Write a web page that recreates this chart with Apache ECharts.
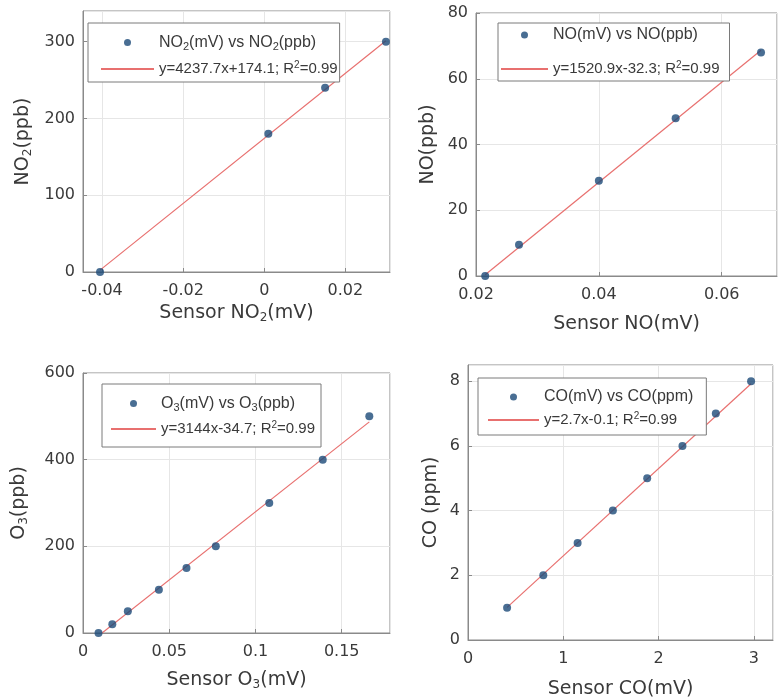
<!DOCTYPE html>
<html>
<head>
<meta charset="utf-8">
<script src="https://cdn.jsdelivr.net/npm/echarts@6/dist/echarts.min.js"></script>
<style>
html,body{margin:0;padding:0;background:#fff;}
#main{width:778px;height:700px;}
</style>
</head>
<body>
<div id="main"></div>
<script>
// values
var no2X = [-0.0405, 0.001, 0.015, 0.030];
var no2Y = [0, 180, 240, 300];
var noX = [0.0215, 0.027, 0.040, 0.0525, 0.0664];
var noY = [0, 9.5, 29, 48, 68];
var o3X = [0.009, 0.017, 0.026, 0.044, 0.060, 0.077, 0.108, 0.139, 0.166];
var o3Y = [0, 20, 50, 100, 150, 200, 300, 400, 500];
var coX = [0.41, 0.79, 1.15, 1.52, 1.88, 2.25, 2.60, 2.97];
var coY = [1, 2, 3, 4, 5, 6, 7, 8];
// fit lines as printed in the legends
var fitSlope = [4237.7, 1520.9, 3144, 2.7];
var fitIntercept = [174.1, -32.3, -34.7, -0.1];

var FONT = 'DejaVu Sans';
var LFONT = 'Liberation Sans';
var TXT = '#3a3a3a';
var DOT = '#1b4a78';
var FIT = '#e8706f';
var BOX = '#8a8a8a';

var richName = {
	s: {fontFamily: FONT, fontSize: 12, lineHeight: 12, padding: [9, 0, 0, 0], color: TXT}
};
var richLeg = {
	s: {fontFamily: LFONT, fontSize: 11, lineHeight: 10, padding: [8, 0, 0, 0], color: TXT},
	p: {fontFamily: LFONT, fontSize: 10, lineHeight: 10, padding: [0, 0, 8, 0], color: TXT},
	f: {fontFamily: LFONT, fontSize: 15, lineHeight: 18, color: TXT}
};

var labels = {};

var panels = [
	{x: no2X, y: no2Y, name: 'NO2(mV) vs NO2(ppb)', label: 'NO{s|2}(mV) vs NO{s|2}(ppb)',
	 fitName: 'y=4237.7x+174.1; R2=0.99', fitLabel: '{f|y=4237.7x+174.1; R}{p|2}{f|=0.99}',
	 xName: 'Sensor NO{s|2}(mV)', yName: 'NO{s|2}(ppb)',
	 grid: [83, 11, 307, 261], xMin: -0.0447, xMax: 0.031, xInt: null, yMin: 0, yMax: 340, yInt: 100,
	 xGap: 32, yGap: 50, minX: false, maxX: false, maxY: false,
	 leg: {left: 88, top: 23, padding: [10, 2, 4, 12], itemGap: 8, itemWidth: 53}},
	{x: noX, y: noY, name: 'NO(mV) vs NO(ppb)', label: 'NO(mV) vs NO(ppb)',
	 fitName: 'y=1520.9x-32.3; R2=0.99', fitLabel: '{f|y=1520.9x-32.3; R}{p|2}{f|=0.99}',
	 xName: 'Sensor NO(mV)', yName: 'NO(ppb)',
	 grid: [476, 13, 301, 263], xMin: 0.02, xMax: 0.069, xInt: 0.02, yMin: 0, yMax: 80, yInt: 20,
	 xGap: 39, yGap: 38, minX: true, maxX: false, maxY: true,
	 leg: {left: 498, top: 23, padding: [3, 10, 3, 2], itemGap: 16, itemWidth: 47}},
	{x: o3X, y: o3Y, name: 'O3(mV) vs O3(ppb)', label: 'O{s|3}(mV) vs O{s|3}(ppb)',
	 fitName: 'y=3144x-34.7; R2=0.99', fitLabel: '{f|y=3144x-34.7; R}{p|2}{f|=0.99}',
	 xName: 'Sensor O{s|3}(mV)', yName: 'O{s|3}(ppb)',
	 grid: [83, 373, 307, 260], xMin: 0, xMax: 0.178, xInt: 0.05, yMin: 0, yMax: 600, yInt: 200,
	 xGap: 38, yGap: 54, minX: true, maxX: false, maxY: true,
	 leg: {left: 102, top: 384, padding: [10, 6, 9, 8], itemGap: 7, itemWidth: 45}},
	{x: coX, y: coY, name: 'CO(mV) vs CO(ppm)', label: 'CO(mV) vs CO(ppm)',
	 fitName: 'y=2.7x-0.1; R2=0.99', fitLabel: '{f|y=2.7x-0.1; R}{p|2}{f|=0.99}',
	 xName: 'Sensor CO(mV)', yName: 'CO (ppm)',
	 grid: [468, 365, 305, 275], xMin: 0, xMax: 3.2, xInt: 1, yMin: 0, yMax: 8.5, yInt: 2,
	 xGap: 40, yGap: 27, minX: true, maxX: false, maxY: false,
	 leg: {left: 478, top: 378, padding: [10, 13, 6, 9], itemGap: 5, itemWidth: 51}}
];

var option = {
	animation: false,
	backgroundColor: '#fff',
	grid: [], xAxis: [], yAxis: [], series: [], legend: []
};

for (var i = 0; i < panels.length; i++) {
	var p = panels[i];
	labels[p.name] = p.label;
	labels[p.fitName] = p.fitLabel;

	option.grid.push({
		left: p.grid[0], top: p.grid[1], width: p.grid[2], height: p.grid[3],
		show: true, borderColor: BOX, borderWidth: 1, backgroundColor: '#fff',
		containLabel: false, outerBoundsMode: 'none'
	});

	var xa = {
		gridIndex: i, type: 'value', min: p.xMin, max: p.xMax, splitNumber: 4,
		name: p.xName, nameLocation: 'middle', nameGap: p.xGap,
		nameTextStyle: {fontFamily: FONT, fontSize: 19, color: TXT, rich: richName},
		axisLine: {onZero: false, lineStyle: {color: BOX, width: 1}},
		axisTick: {inside: true, length: 4, lineStyle: {color: BOX}},
		axisLabel: {fontFamily: FONT, fontSize: 16, color: TXT, margin: 11,
			showMinLabel: p.minX, showMaxLabel: p.maxX},
		splitLine: {show: true, lineStyle: {color: '#e6e6e6', width: 1}}
	};
	if (p.xInt) xa.interval = p.xInt;
	option.xAxis.push(xa);

	option.yAxis.push({
		gridIndex: i, type: 'value', min: p.yMin, max: p.yMax, interval: p.yInt,
		name: p.yName, nameLocation: 'middle', nameGap: p.yGap,
		nameTextStyle: {fontFamily: FONT, fontSize: 19, color: TXT, rich: richName},
		axisLine: {onZero: false, lineStyle: {color: BOX, width: 1}},
		axisTick: {inside: true, length: 4, lineStyle: {color: BOX}},
		axisLabel: {fontFamily: FONT, fontSize: 16, color: TXT, margin: 8, showMaxLabel: p.maxY},
		splitLine: {show: true, lineStyle: {color: '#e6e6e6', width: 1}}
	});

	var pts = [];
	for (var j = 0; j < p.x.length; j++) pts.push([p.x[j], p.y[j]]);
	var x0 = Math.min.apply(null, p.x), x1 = Math.max.apply(null, p.x);
	var k = fitSlope[i], b = fitIntercept[i];

	option.series.push({
		type: 'line', name: p.fitName, xAxisIndex: i, yAxisIndex: i,
		data: [[x0, k * x0 + b], [x1, k * x1 + b]],
		symbol: 'none', lineStyle: {color: FIT, width: 1.2}, itemStyle: {color: FIT}, z: 2
	});
	option.series.push({
		type: 'scatter', name: p.name, xAxisIndex: i, yAxisIndex: i, data: pts,
		symbolSize: 8, symbolKeepAspect: true, itemStyle: {color: DOT}, z: 3
	});

	option.legend.push({
		data: [
			{name: p.name, icon: 'circle'},
			{name: p.fitName, itemStyle: {color: 'rgba(0,0,0,0)', borderWidth: 0}}
		],
		orient: 'vertical', left: p.leg.left, top: p.leg.top, padding: p.leg.padding,
		itemGap: p.leg.itemGap, itemWidth: p.leg.itemWidth, itemHeight: 7,
		borderColor: '#7a7a7a', borderWidth: 1, backgroundColor: '#fff', selectedMode: false,
		textStyle: {fontFamily: LFONT, fontSize: 16, color: TXT, lineHeight: 18, rich: richLeg},
		formatter: function (n) { return labels[n]; }
	});
}

var myChart = echarts.init(document.getElementById('main'));
myChart.setOption(option);
</script>
</body>
</html>
